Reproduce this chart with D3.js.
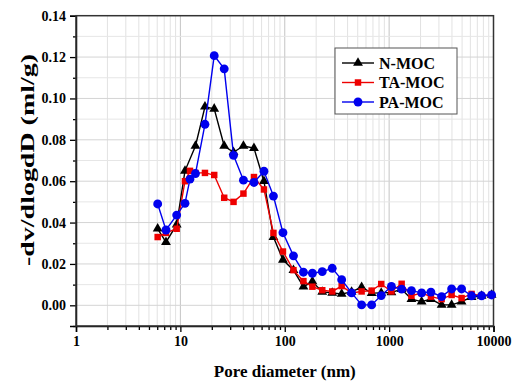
<!DOCTYPE html>
<html><head><meta charset="utf-8">
<script src="https://cdn.jsdelivr.net/npm/d3@7"></script>
<style>
body{margin:0;background:#fff;}
svg{display:block;font-family:"Liberation Serif","Times New Roman",serif;font-weight:bold;}
</style></head><body>
<svg id="c" width="516" height="383"></svg>
<script>
// ---- data ----
const seriesNames = ["N-MOC", "TA-MOC", "PA-MOC"];
const poreD = [6.06, 7.28, 9.22, 11.07, 12.36, 13.95, 17.2, 21.1, 26.3, 32.3, 40.2, 50.7, 63.2, 77.9, 96.1, 121.2, 151, 184, 228.7, 285, 351, 437, 545, 680, 840, 1052, 1318, 1636, 2048, 2514, 3185, 3969, 4946, 6166, 7691, 9590];
const nMocD = [6.06, 7.28, 9.22, 11.07, 13.95, 17.2, 21.1, 26.3, 32.3, 40.2, 50.7, 63.2, 77.9, 96.1, 121.2, 151, 184, 228.7, 285, 351, 437, 545, 680, 840, 1052, 1318, 1636, 2048, 2514, 3185, 3969, 4946, 6166, 7691, 9590];
const nMocV = [0.037, 0.0305, 0.039, 0.065, 0.077, 0.096, 0.095, 0.077, 0.074, 0.077, 0.076, 0.060, 0.033, 0.022, 0.017, 0.009, 0.0115, 0.0065, 0.006, 0.0055, 0.0065, 0.0088, 0.0059, 0.006, 0.0062, 0.0078, 0.003, 0.0018, 0.003, 0.0002, 0.0002, 0.0018, 0.004, 0.0045, 0.005];
const taMocD = poreD;
const taMocV = [0.033, 0.035, 0.037, 0.060, 0.065, 0.064, 0.064, 0.063, 0.052, 0.050, 0.054, 0.062, 0.056, 0.035, 0.026, 0.017, 0.0117, 0.009, 0.0073, 0.0067, 0.0093, 0.006, 0.0067, 0.0071, 0.0103, 0.0067, 0.0104, 0.0046, 0.0059, 0.0042, 0.003, 0.005, 0.0035, 0.0055, 0.0046, 0.005];
const paMocD = poreD;
const paMocV = [0.049, 0.0364, 0.0436, 0.0493, 0.061, 0.0637, 0.0875, 0.1207, 0.1143, 0.0725, 0.0605, 0.0594, 0.0648, 0.0528, 0.0351, 0.0239, 0.016, 0.0155, 0.0163, 0.0179, 0.0124, 0.006, 0.0002, 0.0002, 0.0047, 0.0091, 0.0078, 0.0071, 0.006, 0.0064, 0.0042, 0.0079, 0.0079, 0.0046, 0.0046, 0.005];
const xTicks = [1, 10, 100, 1000, 10000];
const yTicks = [0.00, 0.02, 0.04, 0.06, 0.08, 0.10, 0.12, 0.14];

// ---- layout ----
const svg = d3.select("#c");
const L = 76, R = 493.5, T = 15.7, B = 326;
const x = d3.scaleLog().domain([1, 10000]).range([L, R]);
const y = d3.scaleLinear().domain([-0.01, 0.14]).range([B, T]);

// grid
const minorX = [];
for (let e = 0; e < 4; e++) for (let k = 2; k <= 9; k++) minorX.push(k * Math.pow(10, e));
const g = svg.append("g");
g.selectAll(".vx").data(minorX).join("line")
  .attr("x1", d => x(d)).attr("x2", d => x(d)).attr("y1", T).attr("y2", B)
  .attr("stroke", "#e2e2e2").attr("stroke-width", 1);
g.selectAll(".vX").data([10, 100, 1000]).join("line")
  .attr("x1", d => x(d)).attr("x2", d => x(d)).attr("y1", T).attr("y2", B)
  .attr("stroke", "#c4c4c4").attr("stroke-width", 1);
const hy = d3.range(0, 15).map(i => -0.01 + i * 0.01);
g.selectAll(".hy").data(hy).join("line")
  .attr("x1", L).attr("x2", R).attr("y1", d => y(d)).attr("y2", d => y(d))
  .attr("stroke", (d, i) => i % 2 === 1 ? "#d4d4d4" : "#e6e6e6").attr("stroke-width", 1);

// axes
const xAxis = d3.axisBottom(x).tickValues(xTicks).tickFormat(d3.format("d")).tickSize(6).tickPadding(4);
svg.append("g").attr("transform", `translate(0,${B})`).call(xAxis);
svg.append("g").attr("transform", `translate(0,${B})`)
  .call(d3.axisBottom(x).tickValues(minorX).tickFormat("").tickSize(4))
  .call(s => s.select(".domain").remove());
const yAxis = d3.axisLeft(y).tickValues(yTicks).tickFormat(d3.format(".2f")).tickSize(6).tickPadding(4);
svg.append("g").attr("transform", `translate(${L},0)`).call(yAxis);
svg.append("g").attr("transform", `translate(${L},0)`)
  .call(d3.axisLeft(y).tickValues(d3.range(0, 8).map(i => -0.01 + i * 0.02)).tickFormat("").tickSize(3))
  .call(s => s.select(".domain").remove());
svg.selectAll("g").attr("font-family", null);
svg.selectAll(".tick text").attr("font-family", '"Liberation Serif",serif').attr("font-weight", "bold")
  .attr("font-size", 14).attr("fill", "#000");
svg.selectAll(".tick line").attr("stroke", "#000").attr("stroke-width", 1.3);
svg.selectAll(".domain").attr("stroke", "#000").attr("stroke-width", 1.5);
// box
svg.append("rect").attr("x", L).attr("y", T).attr("width", R - L).attr("height", B - T)
  .attr("fill", "none").attr("stroke", "#333").attr("stroke-width", 1.5);

// series
const series = [
  {name: seriesNames[0], d: nMocD, v: nMocV, color: "#000000", sym: d3.symbolTriangle, size: 42},
  {name: seriesNames[1], d: taMocD, v: taMocV, color: "#ee0000", sym: d3.symbolSquare, size: 42},
  {name: seriesNames[2], d: paMocD, v: paMocV, color: "#0000ee", sym: d3.symbolCircle, size: 62}
];
const line = d3.line().x(p => x(p[0])).y(p => y(p[1]));
series.forEach(s => {
  const pts = s.d.map((d, i) => [d, s.v[i]]);
  svg.append("path").attr("d", line(pts)).attr("fill", "none").attr("stroke", s.color).attr("stroke-width", 1.4);
  svg.append("g").selectAll("path").data(pts).join("path")
    .attr("transform", p => `translate(${x(p[0])},${y(p[1])})`)
    .attr("d", d3.symbol().type(s.sym).size(s.size)).attr("fill", s.color);
});

// legend
const lg = svg.append("g");
lg.append("rect").attr("x", 335).attr("y", 48).attr("width", 122).attr("height", 66)
  .attr("fill", "#fff").attr("stroke", "#555").attr("stroke-width", 1);
series.forEach((s, i) => {
  const yy = 63 + i * 19.5;
  lg.append("line").attr("x1", 342).attr("x2", 374).attr("y1", yy).attr("y2", yy).attr("stroke", s.color).attr("stroke-width", 1.4);
  lg.append("path").attr("transform", `translate(358,${yy})`).attr("d", d3.symbol().type(s.sym).size(s.size)).attr("fill", s.color);
  lg.append("text").attr("x", 379).attr("y", yy + 5.5).attr("font-size", 16).attr("fill", "#000").text(s.name);
});

// titles
svg.append("text").attr("x", (L + R) / 2).attr("y", 377).attr("text-anchor", "middle")
  .attr("font-size", 17).text("Pore diameter (nm)");
svg.append("text").attr("transform", `translate(28,160) rotate(-90)`).attr("text-anchor", "middle")
  .attr("dy", "0.35em").attr("font-size", 18)
  .attr("textLength", 212).attr("lengthAdjust", "spacingAndGlyphs").text("-dv/dlogdD (ml/g)");
</script>
</body></html>
